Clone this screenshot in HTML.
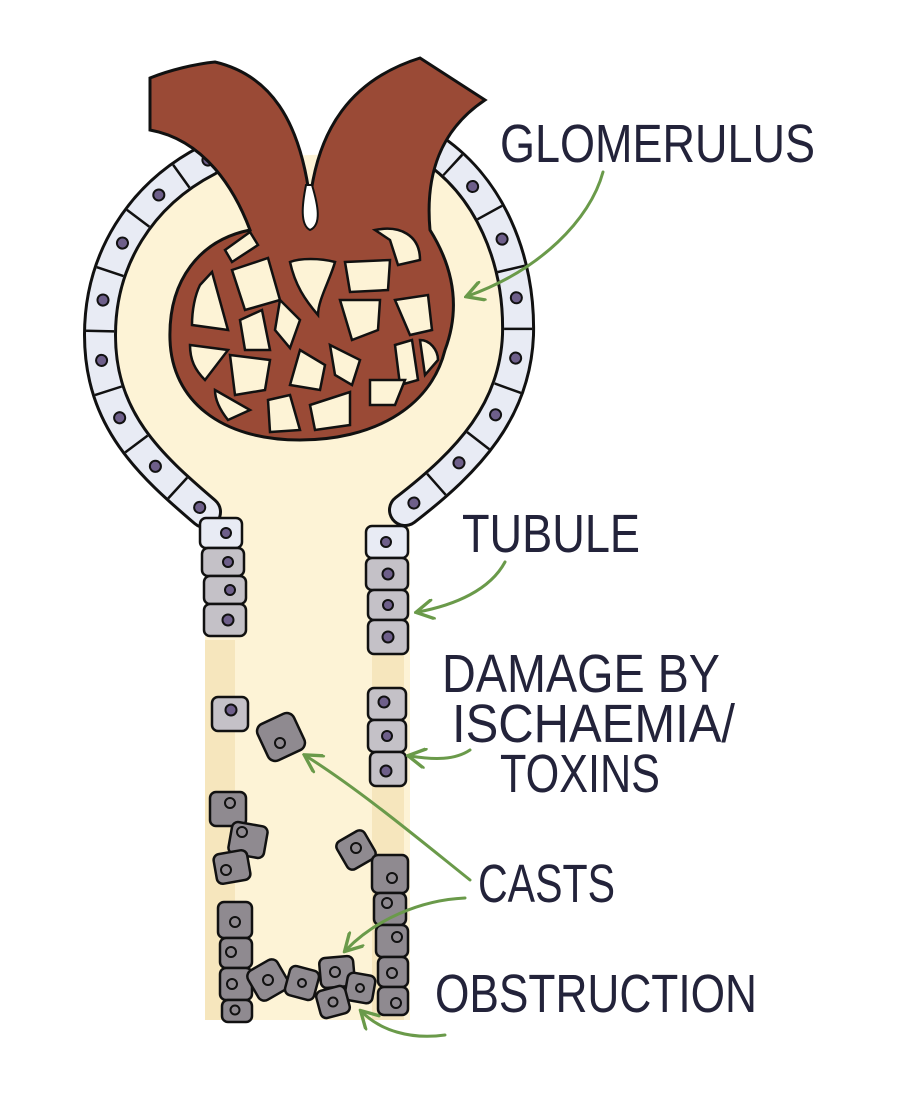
<!DOCTYPE html>
<html><head><style>html,body{margin:0;padding:0;background:#fff}svg{display:block}</style></head>
<body>
<svg width="900" height="1096" viewBox="0 0 900 1096" xmlns="http://www.w3.org/2000/svg">
<defs>
<marker id="ah" viewBox="0 0 10 10" refX="8" refY="5" markerWidth="7" markerHeight="7" orient="auto">
<path d="M1 0.5 L9 5 L1 9.5" fill="none" stroke="#6a9a4a" stroke-width="1.6" stroke-linecap="round"/>
</marker>
</defs>
<path d="M190 160 C120 200 95 270 100 350 C105 430 160 470 205 520 L205 1020 L410 1020 L410 525 C460 470 510 420 518 330 C525 250 490 190 430 150 Z" fill="#fdf3d6"/>
<rect x="205" y="640" width="30" height="380" fill="#f6e6bd"/>
<rect x="372" y="640" width="32" height="380" fill="#f6e6bd"/>
<g fill="none">
<path d="M208 160 C140 195 100 260 100 335 C100 420 150 465 205 512" stroke="#111" stroke-width="34" stroke-linecap="round"/>
<path d="M208 160 C140 195 100 260 100 335 C100 420 150 465 205 512" stroke="#e8ebf4" stroke-width="28" stroke-linecap="round"/>
<path d="M208 160 C140 195 100 260 100 335 C100 420 150 465 205 512" stroke="#111" stroke-width="28" stroke-dasharray="2.5 58" stroke-dashoffset="-30"/>
<path d="M208 160 C140 195 100 260 100 335 C100 420 150 465 205 512" stroke="#111" stroke-width="13" stroke-linecap="round" stroke-dasharray="0.1 60.4" stroke-dashoffset="-0"/>
<path d="M208 160 C140 195 100 260 100 335 C100 420 150 465 205 512" stroke="#6e5f8a" stroke-width="9" stroke-linecap="round" stroke-dasharray="0.1 60.4" stroke-dashoffset="-0"/>
<path d="M428 146 C490 185 520 260 518 335 C515 410 470 460 405 510" stroke="#111" stroke-width="34" stroke-linecap="round"/>
<path d="M428 146 C490 185 520 260 518 335 C515 410 470 460 405 510" stroke="#e8ebf4" stroke-width="28" stroke-linecap="round"/>
<path d="M428 146 C490 185 520 260 518 335 C515 410 470 460 405 510" stroke="#111" stroke-width="28" stroke-dasharray="2.5 58" stroke-dashoffset="-30"/>
<path d="M428 146 C490 185 520 260 518 335 C515 410 470 460 405 510" stroke="#111" stroke-width="13" stroke-linecap="round" stroke-dasharray="0.1 60.4" stroke-dashoffset="-0"/>
<path d="M428 146 C490 185 520 260 518 335 C515 410 470 460 405 510" stroke="#6e5f8a" stroke-width="9" stroke-linecap="round" stroke-dasharray="0.1 60.4" stroke-dashoffset="-0"/>
</g>
<g stroke="#111" stroke-width="3" fill="#9a4a36">
<path d="M150 78 C170 70 195 64 215 62 C270 75 300 120 310 200 C318 130 350 80 420 58 L485 100 C440 130 425 175 430 230 C455 270 460 310 445 350 C430 410 370 440 300 440 C220 440 172 400 170 340 C168 280 200 240 250 230 C235 190 205 140 150 130 Z"/>
</g>
<path d="M306 185 C302 205 300 225 310 230 C322 225 318 205 312 185 Z" fill="#fff" stroke="#111" stroke-width="2"/>
<g fill="#fdf3d6" stroke="#111" stroke-width="2.5">
<path d="M225 250 L250 232 L258 245 L232 262 Z"/>
<path d="M232 270 L268 258 L280 300 L245 310 Z"/>
<path d="M290 262 C300 258 320 258 335 262 C330 280 318 300 318 315 C305 300 295 285 290 262 Z"/>
<path d="M345 262 L390 260 L388 290 L350 292 Z"/>
<path d="M375 230 C400 225 420 235 420 260 L398 265 L390 240 Z"/>
<path d="M200 285 L212 272 L228 330 L192 325 C192 310 195 295 200 285 Z"/>
<path d="M240 320 L262 310 L270 350 L245 350 Z"/>
<path d="M280 300 L300 320 L290 348 L275 330 Z"/>
<path d="M340 300 L380 300 L378 330 L352 340 Z"/>
<path d="M395 300 L428 295 L432 330 L410 335 Z"/>
<path d="M395 345 L412 340 L418 380 L400 385 Z"/>
<path d="M420 340 C430 340 438 350 438 360 L425 375 Z"/>
<path d="M190 345 L228 350 L205 380 C195 370 190 360 190 345 Z"/>
<path d="M230 355 L270 360 L265 390 L235 395 Z"/>
<path d="M300 350 L325 365 L320 390 L290 385 Z"/>
<path d="M330 345 L360 360 L352 385 L335 375 Z"/>
<path d="M370 380 L405 380 L395 405 L370 405 Z"/>
<path d="M215 390 L250 410 L228 420 C220 410 215 400 215 390 Z"/>
<path d="M268 400 L290 395 L300 430 L270 432 Z"/>
<path d="M310 405 L350 392 L350 425 L315 430 Z"/>
</g>
<g stroke="#111" stroke-width="2.5">
<g fill="#e8ebf4">
<rect x="200" y="518" width="42" height="30" rx="6"/>
<rect x="366" y="526" width="42" height="32" rx="6"/>
</g>
<g fill="#c4c1c7">
<rect x="202" y="548" width="42" height="28" rx="6"/>
<rect x="204" y="576" width="42" height="28" rx="6"/>
<rect x="204" y="604" width="42" height="32" rx="6"/>
<rect x="366" y="558" width="42" height="32" rx="6"/>
<rect x="368" y="590" width="40" height="30" rx="6"/>
<rect x="368" y="620" width="40" height="34" rx="6"/>
<rect x="368" y="688" width="38" height="32" rx="6"/>
<rect x="368" y="720" width="38" height="32" rx="6"/>
<rect x="370" y="752" width="36" height="34" rx="6"/>
<rect x="212" y="697" width="36" height="34" rx="6"/>
</g>
<g fill="#8f8a90">
<rect x="-20" y="-20" width="40" height="40" rx="8" transform="translate(281,737) rotate(-25)"/>
<rect x="210" y="792" width="36" height="34" rx="6"/>
<rect x="-18" y="-16" width="36" height="32" rx="6" transform="translate(248,840) rotate(10)"/>
<rect x="-17" y="-15" width="34" height="30" rx="6" transform="translate(232,867) rotate(-10)"/>
<rect x="-16" y="-16" width="32" height="32" rx="6" transform="translate(356,850) rotate(-30)"/>
<rect x="372" y="855" width="36" height="38" rx="6"/>
<rect x="374" y="893" width="32" height="32" rx="6"/>
<rect x="376" y="925" width="32" height="32" rx="6"/>
<rect x="378" y="957" width="30" height="30" rx="6"/>
<rect x="378" y="987" width="30" height="28" rx="6"/>
<rect x="218" y="902" width="34" height="36" rx="6"/>
<rect x="220" y="938" width="32" height="30" rx="6"/>
<rect x="220" y="968" width="32" height="32" rx="6"/>
<rect x="222" y="1000" width="30" height="22" rx="6"/>
<rect x="-17" y="-17" width="34" height="34" rx="7" transform="translate(268,980) rotate(-30)"/>
<rect x="-15" y="-15" width="30" height="30" rx="6" transform="translate(302,983) rotate(15)"/>
<rect x="-17" y="-15" width="34" height="30" rx="6" transform="translate(337,972) rotate(-5)"/>
<rect x="-14" y="-14" width="28" height="28" rx="6" transform="translate(360,988) rotate(10)"/>
<rect x="-15" y="-14" width="30" height="28" rx="6" transform="translate(333,1002) rotate(-15)"/>
</g>
</g>
<g fill="#6e5f8a" stroke="#111" stroke-width="2">
<circle cx="226" cy="533" r="5"/><circle cx="386" cy="542" r="5"/>
<circle cx="228" cy="562" r="5"/><circle cx="230" cy="590" r="5"/><circle cx="228" cy="620" r="5.5"/>
<circle cx="388" cy="574" r="5.5"/><circle cx="388" cy="605" r="5"/><circle cx="388" cy="637" r="5.5"/>
<circle cx="384" cy="702" r="5.5"/><circle cx="387" cy="736" r="5"/><circle cx="386" cy="771" r="5.5"/>
<circle cx="231" cy="710" r="5.5"/>
</g>
<g fill="#8f8a90" stroke="#111" stroke-width="2">
<circle cx="280" cy="743" r="5"/><circle cx="230" cy="803" r="5"/><circle cx="242" cy="832" r="5"/><circle cx="226" cy="870" r="5"/><circle cx="356" cy="848" r="5"/>
<circle cx="392" cy="878" r="5"/><circle cx="387" cy="903" r="5"/><circle cx="397" cy="937" r="5"/><circle cx="392" cy="973" r="5"/><circle cx="396" cy="1003" r="5"/>
<circle cx="235" cy="922" r="5"/><circle cx="231" cy="952" r="5"/><circle cx="232" cy="984" r="5"/><circle cx="235" cy="1010" r="4.5"/>
<circle cx="268" cy="980" r="5"/><circle cx="302" cy="983" r="4"/><circle cx="335" cy="972" r="5"/><circle cx="360" cy="988" r="4"/><circle cx="333" cy="1002" r="4.5"/>
</g>
<g fill="none" stroke="#6a9a4a" stroke-width="3" stroke-linecap="round">
<path d="M603 172 C590 220 540 270 468 296" marker-end="url(#ah)"/>
<path d="M505 562 C490 590 455 605 418 612" marker-end="url(#ah)"/>
<path d="M470 750 C455 760 435 760 410 756" marker-end="url(#ah)"/>
<path d="M470 880 C420 840 360 790 306 756" marker-end="url(#ah)"/>
<path d="M465 898 C420 900 375 920 346 950" marker-end="url(#ah)"/>
<path d="M445 1035 C410 1040 380 1030 362 1012" marker-end="url(#ah)"/>
</g>
<g font-family="Liberation Sans, sans-serif" font-size="54" fill="#23233a">
<text x="500" y="162" textLength="315" lengthAdjust="spacingAndGlyphs">GLOMERULUS</text>
<text x="462" y="552" textLength="178" lengthAdjust="spacingAndGlyphs">TUBULE</text>
<text x="442" y="692" textLength="278" lengthAdjust="spacingAndGlyphs">DAMAGE BY</text>
<text x="452" y="742" textLength="283" lengthAdjust="spacingAndGlyphs">ISCHAEMIA/</text>
<text x="500" y="792" textLength="160" lengthAdjust="spacingAndGlyphs">TOXINS</text>
<text x="478" y="902" textLength="137" lengthAdjust="spacingAndGlyphs">CASTS</text>
<text x="435" y="1012" textLength="322" lengthAdjust="spacingAndGlyphs">OBSTRUCTION</text>
</g>
</svg>
</body></html>
